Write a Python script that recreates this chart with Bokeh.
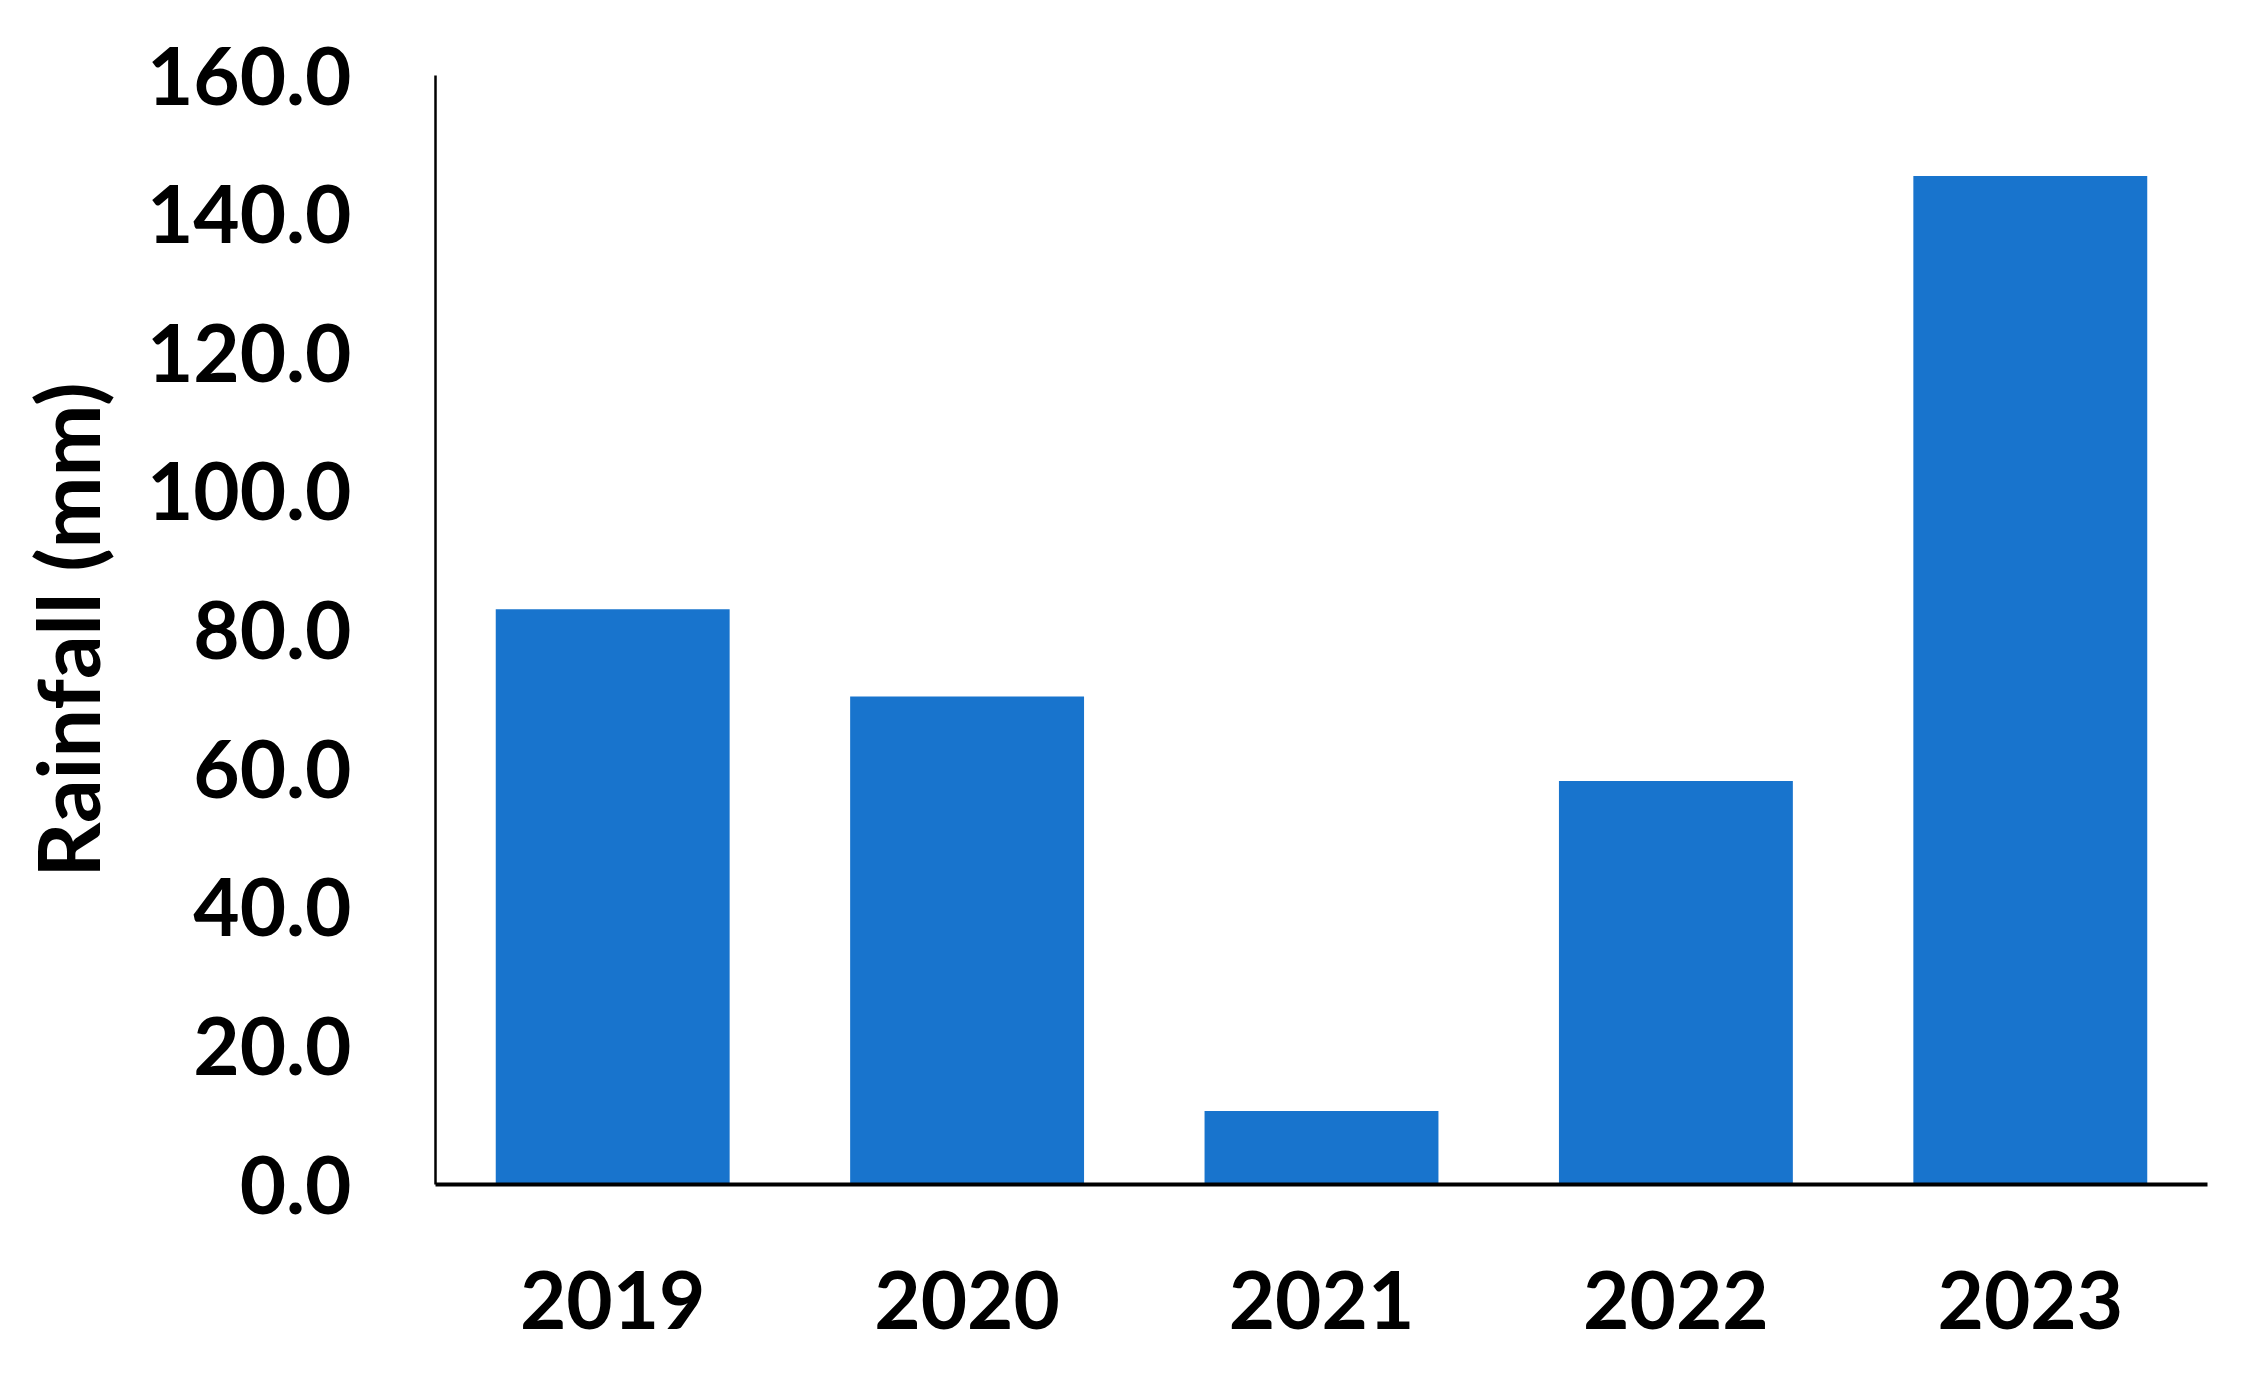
from bokeh.plotting import figure
from bokeh.models import NumeralTickFormatter, SingleIntervalTicker, Range1d, FactorRange
from bokeh.embed import file_html
from bokeh.resources import INLINE

years = ["2019", "2020", "2021", "2022", "2023"]
rainfall = [83.0, 70.4, 10.6, 58.2, 145.5]

FONT = "Lato"

p = figure(
    x_range=FactorRange(*years, range_padding=0),
    y_range=Range1d(0, 160),
    width=2240, height=1370,
    output_backend="svg", toolbar_location=None,
    min_border_left=435, min_border_right=33,
    min_border_top=75, min_border_bottom=186,
)
p.vbar(x=years, top=rainfall, width=0.66, color="#1874CD", line_color=None)

p.outline_line_color = None
p.xgrid.visible = False
p.ygrid.visible = False
p.background_fill_color = "white"
p.border_fill_color = "white"

p.yaxis.ticker = SingleIntervalTicker(interval=20)
p.yaxis.formatter = NumeralTickFormatter(format="0.0")
p.yaxis.axis_label = "Rainfall (mm)"

for ax in (p.xaxis[0], p.yaxis[0]):
    ax.major_tick_line_color = None
    ax.minor_tick_line_color = None
    ax.axis_line_color = "black"
    ax.major_label_text_font = FONT
    ax.major_label_text_font_style = "bold"
    ax.major_label_text_font_size = "80px"
    ax.major_label_text_color = "black"
    ax.axis_label_text_font = FONT
    ax.axis_label_text_font_style = "bold"
    ax.axis_label_text_font_size = "86px"
    ax.axis_label_text_color = "black"

p.yaxis.axis_line_width = 2.5
p.xaxis.axis_line_width = 4
p.yaxis.major_label_standoff = 78
p.xaxis.major_label_standoff = 80
p.yaxis.axis_label_standoff = 26

open("out.html", "w").write(file_html(p, INLINE))
